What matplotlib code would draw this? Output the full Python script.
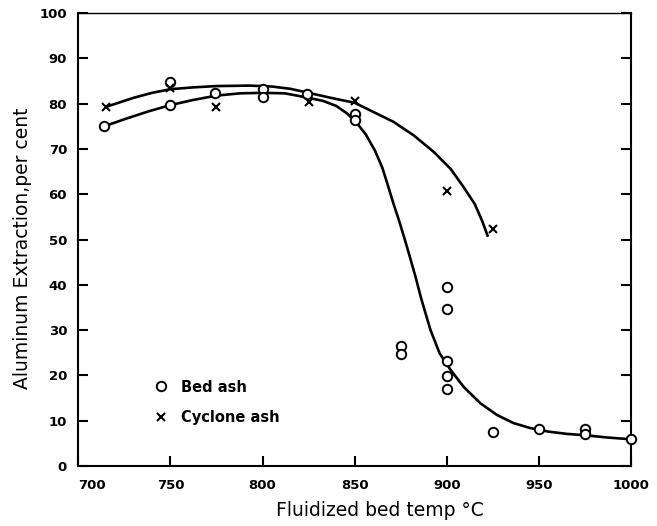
import numpy as np
import matplotlib
matplotlib.use("Agg")
import matplotlib.pyplot as plt

# measured points
bed_t = [714, 750, 750, 774, 800, 800, 824, 850, 850, 875, 875,
         900, 900, 900, 900, 900, 925, 950, 975, 975, 1000]
bed_v = [75.0, 84.8, 79.7, 82.4, 83.2, 81.4, 82.2, 77.8, 76.5, 26.5, 24.8,
         39.5, 34.7, 23.3, 19.8, 17.0, 7.6, 8.2, 8.1, 7.0, 5.9]

cyc_t = [715, 750, 775, 825, 850, 900, 925]
cyc_v = [79.3, 83.4, 79.3, 80.4, 80.6, 60.8, 52.3]

# hand-fitted trend curves
bed_curve_t = [714, 726, 738, 750, 762, 775, 788, 800, 812, 825, 833, 840,
               846, 851, 856, 861, 865, 868, 871, 874, 877, 880, 883, 886, 891,
               896, 902, 909, 918, 927, 936, 945, 955, 965, 975, 987, 1000]
bed_curve_v = [75.0, 76.7, 78.3, 79.7, 80.8, 81.8, 82.3, 82.4, 82.3, 81.3, 80.6, 79.5,
               77.8, 75.8, 73.2, 69.6, 65.8, 61.9, 57.9, 54.2, 50.2, 46.0, 41.7, 37.0, 30.1,
               24.9, 21.2, 17.5, 13.9, 11.3, 9.5, 8.4, 7.6, 7.1, 6.8, 6.3, 5.9]

cyc_curve_t = [715, 730, 740, 750, 762, 775, 793, 805, 815, 825, 837, 850,
               860, 871, 882, 893, 902, 909, 915, 919, 922]
cyc_curve_v = [79.3, 81.3, 82.4, 83.2, 83.6, 83.9, 84.0, 83.8, 83.3, 82.4, 81.3, 80.2,
               78.2, 76.0, 73.0, 69.3, 65.6, 61.6, 57.9, 54.2, 50.9]

xticks = [700, 750, 800, 850, 900, 950, 1000]
yticks = [0, 10, 20, 30, 40, 50, 60, 70, 80, 90, 100]

fig = plt.figure(figsize=(6.57, 5.26), dpi=100)
ax = fig.add_axes([0.119, 0.114, 0.842, 0.861])

ax.plot(bed_curve_t, bed_curve_v, color='black', lw=1.9, zorder=2,
        solid_joinstyle='round')
ax.plot(cyc_curve_t, cyc_curve_v, color='black', lw=1.9, zorder=2,
        solid_joinstyle='round')

ax.plot(bed_t, bed_v, ls='none', marker='o', ms=6.8, mfc='white', mec='black',
        mew=1.4, label='Bed ash', zorder=3, clip_on=False)
ax.plot(cyc_t, cyc_v, ls='none', marker='x', ms=5.5, mec='black', mew=1.5,
        label='Cyclone ash', zorder=3, clip_on=False)

ax.set_xlim(700, 1000)
ax.set_ylim(0, 100)
ax.set_xticks(xticks)
ax.set_yticks(yticks)
ax.set_xticklabels([str(t) for t in xticks], fontsize=9.5, fontweight='bold')
ax.set_yticklabels([str(t) for t in yticks], fontsize=9.5, fontweight='bold')
ax.get_xticklabels()[0].set_horizontalalignment('left')

ax.tick_params(direction='in', length=7, width=1.5, right=True, top=False)
ax.tick_params(axis='x', pad=9)
ax.tick_params(axis='y', pad=8)
for s in ax.spines.values():
    s.set_linewidth(1.5)
ax.spines['top'].set_linewidth(1.0)

ax.set_xlabel('Fluidized bed temp \u00b0C', fontsize=13.5)
ax.xaxis.set_label_coords(0.545, -0.078)
ax.set_ylabel('Aluminum Extraction,per cent', fontsize=13.5)
ax.yaxis.set_label_coords(-0.084, 0.48)

ax.legend(loc='lower left', bbox_to_anchor=(0.112, 0.062), frameon=False,
          handlelength=1.0, handletextpad=0.9, labelspacing=1.05,
          prop={'size': 10.5, 'weight': 'bold'})

fig.savefig('out.png', dpi=100)
